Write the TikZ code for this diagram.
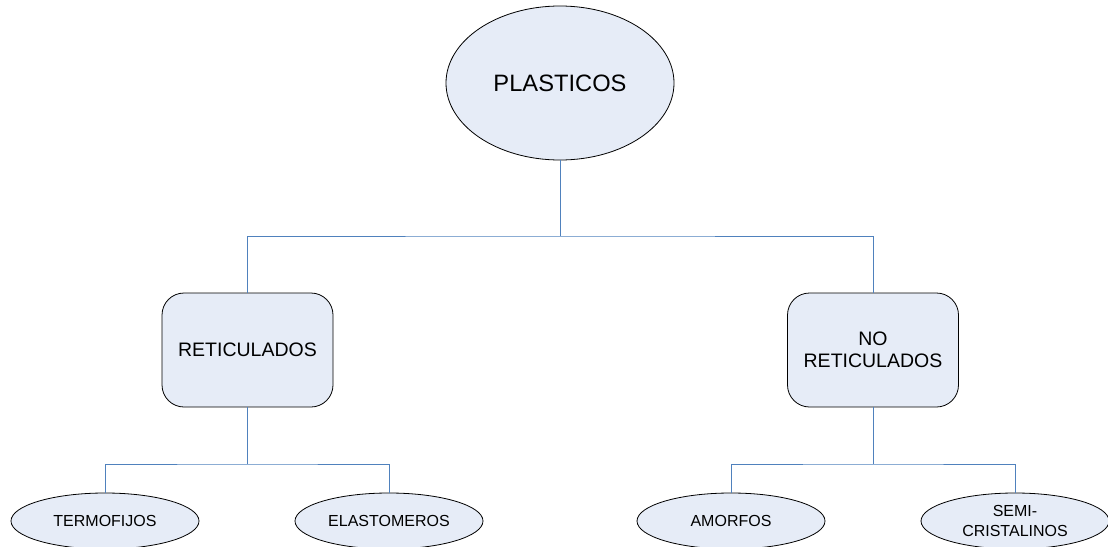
\documentclass[tikz,border=0pt]{standalone}
\usepackage{fontspec}
\setmainfont{Liberation Sans}
\usetikzlibrary{shapes.geometric}
\definecolor{nodefill}{HTML}{E6ECF7}
\definecolor{linkblue}{HTML}{4F81BD}
\tikzset{
  root/.style={ellipse, draw=black, line width=0.8pt, fill=nodefill, inner sep=0pt,
    minimum width=228pt, minimum height=154pt, font=\fontsize{23.7}{28}\selectfont},
  branch/.style={rectangle, rounded corners=22pt, draw=black, line width=0.8pt, fill=nodefill,
    inner sep=0pt, minimum width=171pt, minimum height=114pt, align=center,
    font=\fontsize{19.5}{22.5}\selectfont},
  leaf/.style={ellipse, draw=black, line width=0.8pt, fill=nodefill, inner sep=0pt,
    minimum width=188pt, minimum height=56pt, align=center,
    font=\fontsize{16}{19.5}\selectfont},
  conn/.style={draw=linkblue, line width=0.9pt}
}
\begin{document}
\begin{tikzpicture}[x=1pt, y=-1pt]
\useasboundingbox (0,0) rectangle (1108,546);
% nodes
\node[root] (plast) at (560,83) {PLASTICOS};
\node[branch] (ret) at (247.5,350) {RETICULADOS};
\node[branch] (noret) at (873,350) {NO\\RETICULADOS};
\node[leaf] (termo) at (105,521) {TERMOFIJOS};
\node[leaf] (elast) at (389,521) {ELASTOMEROS};
\node[leaf] (amorf) at (731,521) {AMORFOS};
\node[leaf] (semi) at (1015,521) {SEMI-\\CRISTALINOS};
% junction points of the tree
\coordinate (j0) at (560,236);
\coordinate (j1) at (247.5,464);
\coordinate (j2) at (873,464);
% connectors
\draw[conn] (plast.south) -- (j0);
\draw[conn] (ret.north) |- (j0) -| (noret.north);
\draw[conn] (ret.south) -- (j1);
\draw[conn] (termo.north) |- (j1) -| (elast.north);
\draw[conn] (noret.south) -- (j2);
\draw[conn] (amorf.north) |- (j2) -| (semi.north);
\end{tikzpicture}
\end{document}
